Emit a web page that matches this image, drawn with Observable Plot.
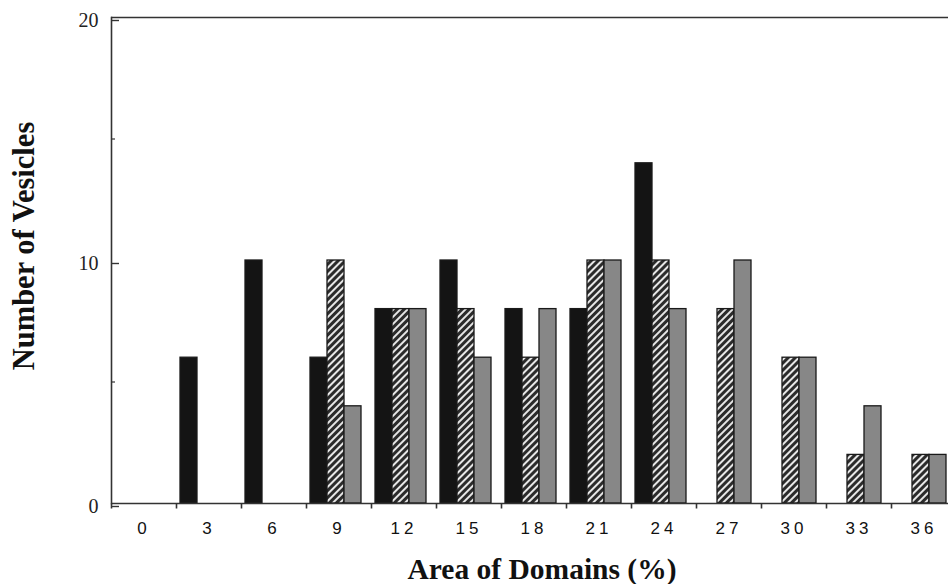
<!DOCTYPE html>
<html>
<head>
<meta charset="utf-8">
<script src="https://cdn.jsdelivr.net/npm/d3@7"></script>
<script src="https://cdn.jsdelivr.net/npm/@observablehq/plot@0.6"></script>
<style>
  html, body { margin: 0; padding: 0; background: #fff; }
  #wrap { position: relative; width: 948px; height: 584px; overflow: hidden; background: #fff; }
  #wrap svg { position: absolute; left: 0; top: 0; overflow: hidden; max-width: none !important; height: 540px !important; width: 970px !important; }
  .ytitle, .xtitle {
    position: absolute; white-space: nowrap;
    font-family: "Liberation Serif", "Times New Roman", serif; font-weight: bold; color: #111;
  }
  .ytitle { left: 24px; top: 246px; font-size: 30.5px; line-height: 1; transform: translate(-50%, -50%) rotate(-90deg); }
  .xtitle { left: 542px; top: 555px; height: 29px; font-size: 29.5px; line-height: 29px; transform: translateX(-50%); }
  g[aria-label="fx-axis tick label"] text { letter-spacing: 4px; }
</style>
</head>
<body>
<div id="wrap">
  <div class="ytitle">Number of Vesicles</div>
  <div class="xtitle">Area of Domains (%)</div>
</div>
<script>
// ---- data ----
const categories = [0, 3, 6, 9, 12, 15, 18, 21, 24, 27, 30, 33, 36];
const seriesNames = ["solid", "hatched", "gray"];
const solidValues   = [0, 6, 10, 6, 8, 10, 8, 8, 14, 0, 0, 0, 0];
const hatchedValues = [0, 0, 0, 10, 8, 8, 6, 10, 10, 8, 6, 2, 2];
const grayValues    = [0, 0, 0, 4, 8, 6, 8, 10, 8, 10, 6, 4, 2];
const yTicks = [0, 10, 20];
const yMinorTicks = [5, 15];

const table = categories.flatMap((c, i) => [
  {cat: c, series: "solid", value: solidValues[i]},
  {cat: c, series: "hatched", value: hatchedValues[i]},
  {cat: c, series: "gray", value: grayValues[i]}
]);

const tickSymbol = {
  draw(context) { context.moveTo(0, 0); context.lineTo(0, 5); }
};

const axisColor = "#333";

const chart = Plot.plot({
  width: 970,
  height: 540,
  marginLeft: 108,
  marginRight: 12,
  marginTop: 17,
  marginBottom: 37,
  style: {background: "white", color: "#222", fontFamily: "Liberation Sans, Arial, sans-serif"},
  fx: {domain: categories, padding: 0, label: null},
  x: {domain: seriesNames, paddingInner: 0, paddingOuter: 0.317, align: 0.26, axis: null},
  y: {domain: [0, 20], label: null},
  color: {domain: seriesNames, range: ["#141414", "url(#hatch)", "#878787"]},
  marks: [
    Plot.ruleY([20], {stroke: axisColor, strokeWidth: 1.6}),
    Plot.barY(table, {
      fx: "cat", x: "series", y: "value", fill: "series",
      stroke: "#1a1a1a", strokeWidth: 1.3
    }),
    Plot.ruleY([0], {stroke: axisColor, strokeWidth: 1.6}),
    Plot.frame({anchor: "left", facetAnchor: "left", stroke: axisColor, strokeWidth: 1.6}),
    Plot.dot([0], {frameAnchor: "bottom-left", symbol: tickSymbol, fill: "none", stroke: axisColor, strokeWidth: 1.6, r: 3}),
    Plot.axisY({ticks: yTicks, tickSize: -8, tickPadding: 21, label: null, stroke: axisColor, strokeWidth: 1.4,
      fontSize: 20, fontFamily: "Liberation Serif, Times New Roman, serif", dy: 3, fill: "#222"}),
    Plot.axisY({ticks: yMinorTicks, tickSize: -4, tickFormat: () => "", label: null, stroke: axisColor, strokeWidth: 1.2}),
    Plot.axisFx({anchor: "bottom", tickSize: 0, tickPadding: 18, label: null, fontSize: 17, fill: "#111"})
  ]
});

// hatch pattern definition for the hatched series
const ns = "http://www.w3.org/2000/svg";
const defs = document.createElementNS(ns, "defs");
const pattern = document.createElementNS(ns, "pattern");
pattern.setAttribute("id", "hatch");
pattern.setAttribute("patternUnits", "userSpaceOnUse");
pattern.setAttribute("width", "5");
pattern.setAttribute("height", "5");
pattern.setAttribute("patternTransform", "rotate(45)");
const bg = document.createElementNS(ns, "rect");
bg.setAttribute("width", "5"); bg.setAttribute("height", "5"); bg.setAttribute("fill", "#2b2b2b");
const stripe = document.createElementNS(ns, "rect");
stripe.setAttribute("width", "2"); stripe.setAttribute("height", "5"); stripe.setAttribute("fill", "#e6e6e6");
pattern.appendChild(bg); pattern.appendChild(stripe);
defs.appendChild(pattern);
const svg = chart.tagName.toLowerCase() === "svg" ? chart : chart.querySelector("svg");
svg.insertBefore(defs, svg.firstChild);

document.getElementById("wrap").prepend(chart);
</script>
</body>
</html>
